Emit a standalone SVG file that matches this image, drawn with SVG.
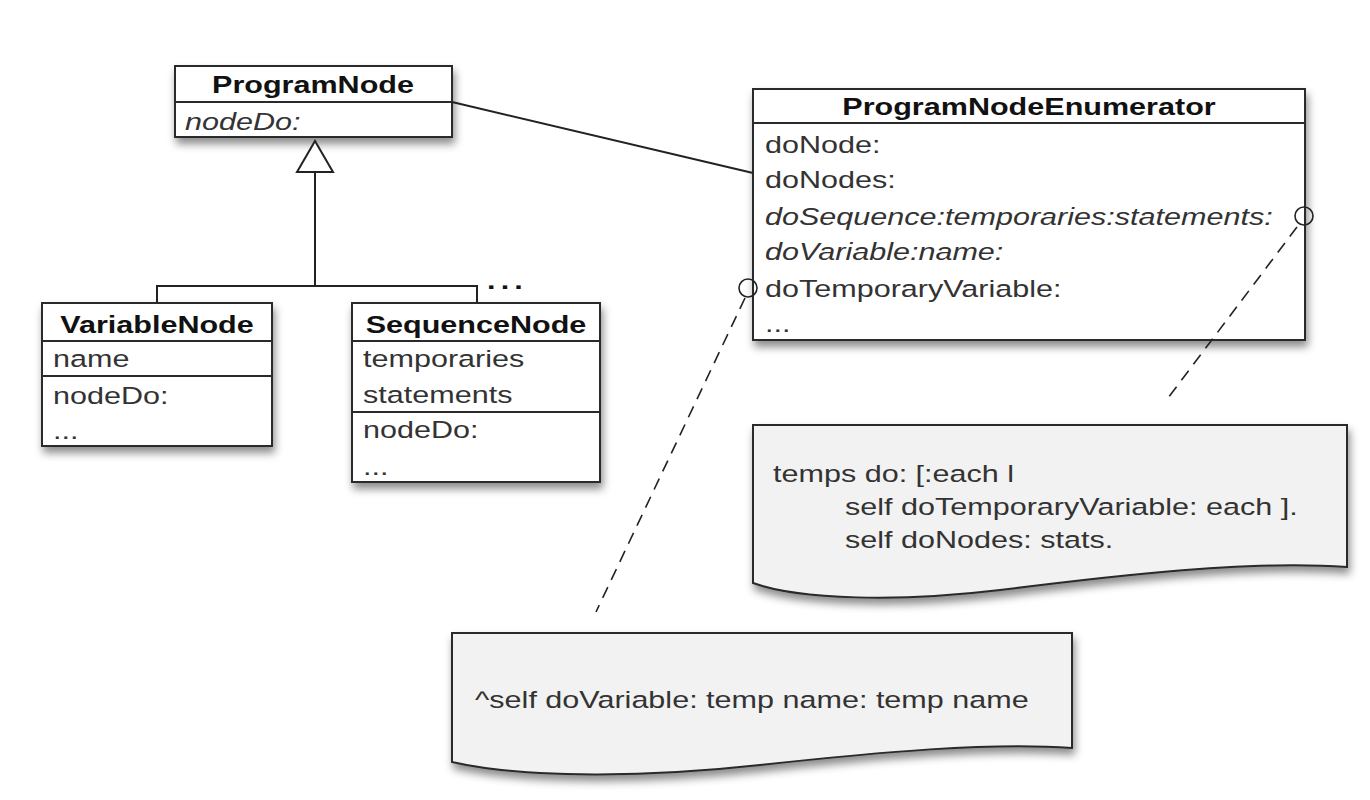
<svg xmlns="http://www.w3.org/2000/svg" width="1370" height="800" viewBox="0 0 1370 800">
<defs>
<filter id="sh" x="-10%" y="-10%" width="125%" height="140%">
<feDropShadow dx="2" dy="6" stdDeviation="4" flood-color="#000" flood-opacity="0.45"/>
</filter>
<style>
.box{fill:#fff;stroke:#2a2a2a;stroke-width:2}
.note{fill:#f2f2f2;stroke:#2a2a2a;stroke-width:2}
.div{stroke:#2a2a2a;stroke-width:2}
.t{font-family:"Liberation Sans",Arial,sans-serif;font-size:23.5px;fill:#333}
.b{font-weight:bold;fill:#111;text-anchor:middle}
.i{font-style:italic}
.con{fill:none;stroke:#222;stroke-width:2}
.dash{fill:none;stroke:#222;stroke-width:1.6;stroke-dasharray:12 8}
</style>
</defs>
<rect width="1370" height="800" fill="#fff"/>

<g id="ProgramNode">
<rect class="box" x="175" y="66" width="277" height="71" filter="url(#sh)"/>
<line class="div" x1="175" y1="102" x2="452" y2="102"/>
<text class="t b" transform="translate(313,93) scale(1.3 1)">ProgramNode</text>
<text class="t i" transform="translate(185,130) scale(1.3 1)">nodeDo:</text>
</g>

<g id="VariableNode">
<rect class="box" x="42" y="303" width="230" height="143" filter="url(#sh)"/>
<line class="div" x1="42" y1="341" x2="272" y2="341"/>
<line class="div" x1="42" y1="376" x2="272" y2="376"/>
<text class="t b" transform="translate(157,333) scale(1.3 1)">VariableNode</text>
<text class="t" transform="translate(53,367) scale(1.3 1)">name</text>
<text class="t" transform="translate(53,404) scale(1.3 1)">nodeDo:</text>
<text class="t" transform="translate(53,439) scale(1.3 1)">...</text>
</g>

<g id="SequenceNode">
<rect class="box" x="352" y="303" width="248" height="179" filter="url(#sh)"/>
<line class="div" x1="352" y1="341" x2="600" y2="341"/>
<line class="div" x1="352" y1="412" x2="600" y2="412"/>
<text class="t b" transform="translate(476,333) scale(1.3 1)">SequenceNode</text>
<text class="t" transform="translate(363,367) scale(1.3 1)">temporaries</text>
<text class="t" transform="translate(363,403) scale(1.3 1)">statements</text>
<text class="t" transform="translate(363,438) scale(1.3 1)">nodeDo:</text>
<text class="t" transform="translate(363,475) scale(1.3 1)">...</text>
</g>

<g id="ProgramNodeEnumerator">
<rect class="box" x="753" y="89" width="552" height="251" filter="url(#sh)"/>
<line class="div" x1="753" y1="123" x2="1305" y2="123"/>
<text class="t b" transform="translate(1029,115) scale(1.3 1)">ProgramNodeEnumerator</text>
<text class="t" transform="translate(765,153) scale(1.3 1)">doNode:</text>
<text class="t" transform="translate(765,188) scale(1.3 1)">doNodes:</text>
<text class="t i" transform="translate(765,225) scale(1.3 1)">doSequence:temporaries:statements:</text>
<text class="t i" transform="translate(765,260) scale(1.3 1)">doVariable:name:</text>
<text class="t" transform="translate(765,297) scale(1.3 1)">doTemporaryVariable:</text>
<text class="t" transform="translate(765,332) scale(1.3 1)">...</text>
</g>

<g id="note-sequence">
<path class="note" filter="url(#sh)" d="M753,425 H1347 V567 C1250,560 1120,575 1000,590 C900,602 800,600 753,583 Z"/>
<text class="t" transform="translate(773,482) scale(1.3 1)">temps do: [:each l</text>
<text class="t" transform="translate(845,515) scale(1.3 1)">self doTemporaryVariable: each ].</text>
<text class="t" transform="translate(845,548) scale(1.3 1)">self doNodes: stats.</text>
</g>

<g id="note-variable">
<path class="note" filter="url(#sh)" d="M452,633 H1072 V748 C990,742 880,752 760,765 C660,776 530,780 452,762 Z"/>
<text class="t" transform="translate(475,708) scale(1.3 1)">^self doVariable: temp name: temp name</text>
</g>

<g id="connectors">
<line class="con" x1="452" y1="102" x2="753" y2="173"/>
<polyline class="con" points="157,303 157,286 477,286 477,303"/>
<line class="con" x1="315" y1="286" x2="315" y2="172"/>
<polygon points="315,141 297,172 333,172" fill="#fff" stroke="#222" stroke-width="2"/>
<text class="t" style="font-weight:bold;fill:#111;letter-spacing:4px" transform="translate(487,289) scale(1.3 1)">...</text>
<line class="dash" x1="1297" y1="227" x2="1165" y2="402"/>
<line class="dash" x1="745" y1="298" x2="596" y2="612"/>
<circle cx="1304" cy="216" r="9" fill="none" stroke="#222" stroke-width="1.6"/>
<circle cx="748" cy="288" r="9" fill="none" stroke="#222" stroke-width="1.6"/>
</g>
</svg>
